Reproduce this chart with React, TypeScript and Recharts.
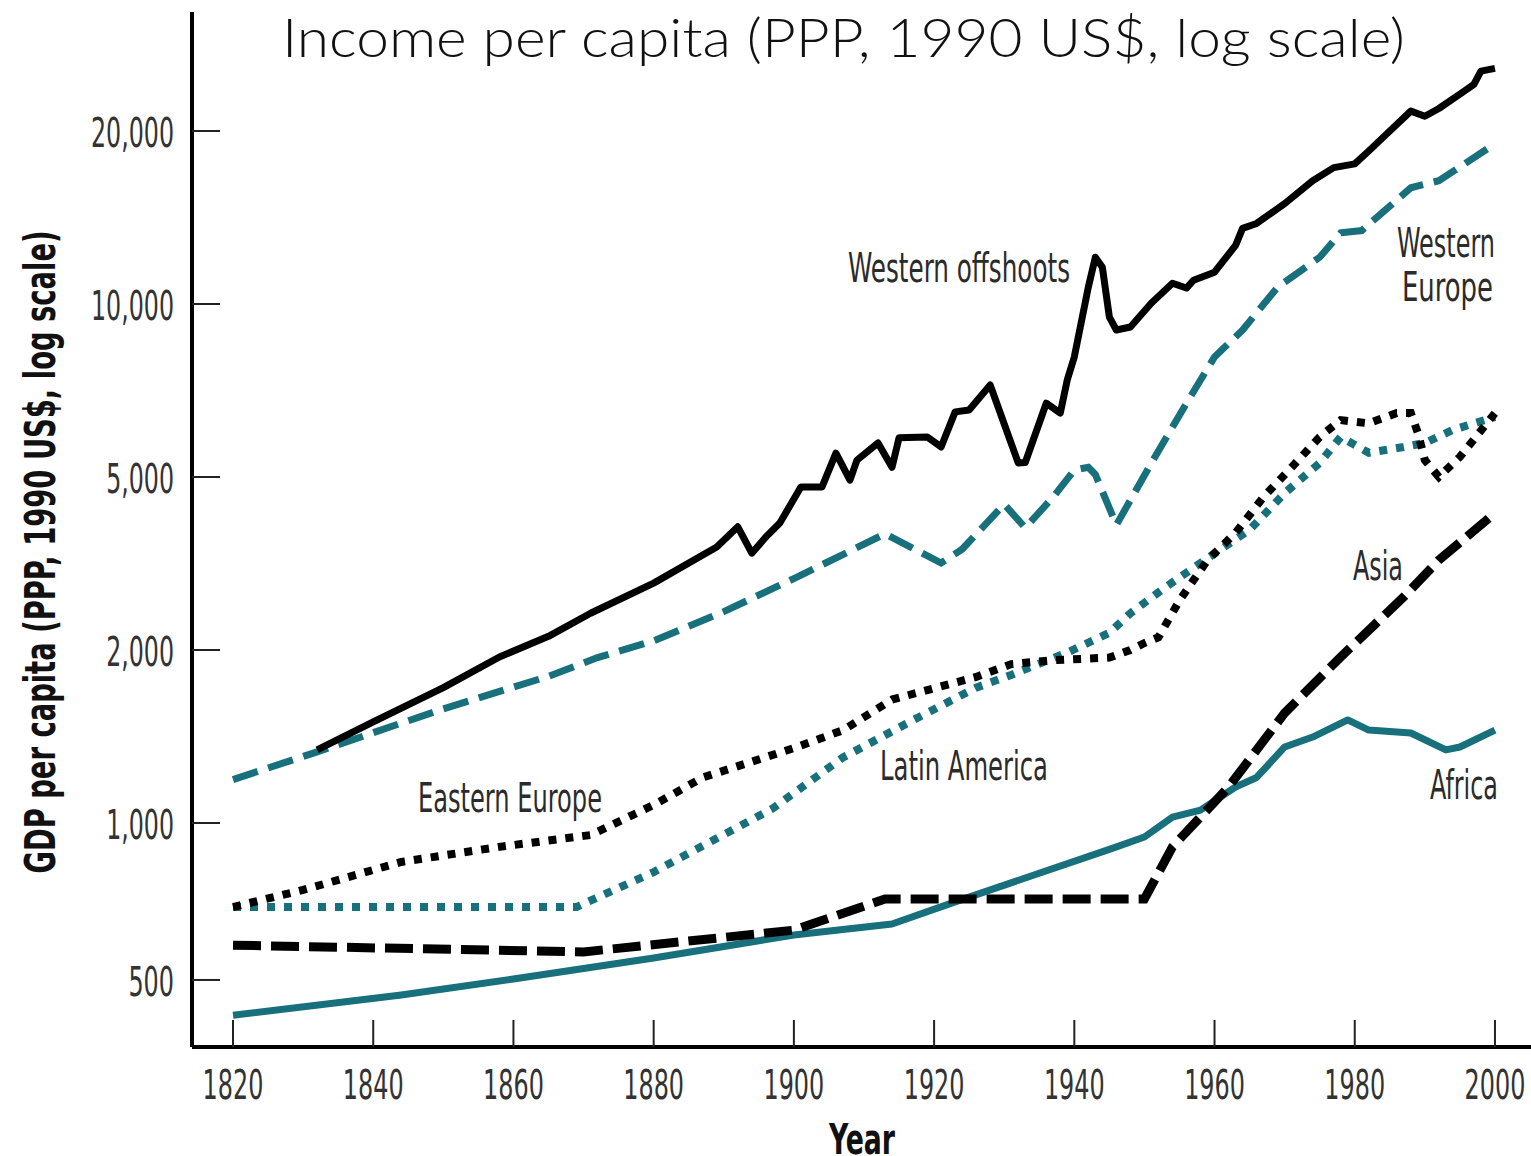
import { LineChart, Line, XAxis, YAxis } from "recharts";

// [year, GDP per capita]
const westernOffshoots = [
  [1832, 1340], [1840, 1500], [1850, 1720], [1858, 1945], [1865, 2150], [1871, 2430],
  [1880, 2850], [1889, 3450], [1892, 3840], [1894, 3340], [1896, 3640], [1898, 3920],
  [1901, 4740], [1904, 4740], [1906, 5500], [1908, 4920], [1909, 5350], [1912, 5730],
  [1914, 5200], [1915, 5850], [1919, 5870], [1921, 5640], [1923, 6490], [1925, 6540],
  [1928, 7230], [1932, 5290], [1933, 5300], [1936, 6720], [1938, 6460], [1939, 7380],
  [1940, 8090], [1942, 10700], [1943, 12060], [1944, 11590], [1945, 9490], [1946, 9010],
  [1948, 9120], [1951, 10040], [1954, 10870], [1956, 10660], [1957, 11000], [1960, 11360],
  [1963, 12650], [1964, 13540], [1966, 13810], [1970, 14950], [1974, 16390], [1977, 17270],
  [1980, 17530], [1982, 18460], [1985, 20000], [1988, 21660], [1990, 21220], [1992, 21890],
  [1995, 23180], [1997, 24120], [1998, 25420], [2000, 25700],
];

const westernEurope = [
  [1820, 1190], [1832, 1330], [1850, 1580], [1865, 1800], [1872, 1940], [1880, 2100],
  [1890, 2450], [1900, 2920], [1913, 3700], [1921, 3170], [1924, 3410], [1930, 4330],
  [1933, 3820], [1937, 4500], [1940, 5140], [1942, 5200], [1943, 5050], [1946, 3880],
  [1951, 5290], [1956, 6720], [1960, 8090], [1964, 9010], [1969, 10700], [1975, 12060],
  [1978, 13300], [1981, 13420], [1988, 15930], [1992, 16390], [2000, 19000],
];

const easternEurope = [
  [1820, 690], [1830, 744], [1844, 842], [1858, 900], [1871, 948], [1880, 1075],
  [1887, 1200], [1900, 1350], [1907, 1450], [1914, 1640], [1926, 1795], [1931, 1890],
  [1937, 1920], [1945, 1940], [1948, 2000], [1950, 2075], [1952, 2140], [1955, 2600],
  [1959, 3220], [1963, 3720], [1967, 4500], [1971, 5200], [1975, 5870], [1978, 6280],
  [1982, 6200], [1986, 6460], [1988, 6460], [1989, 5970], [1990, 5350], [1992, 5000],
  [1995, 5420], [2000, 6460],
];

const latinAmerica = [
  [1820, 690], [1869, 690], [1880, 805], [1897, 1060], [1907, 1300], [1917, 1510],
  [1926, 1720], [1931, 1810], [1939, 1980], [1945, 2190], [1948, 2430], [1953, 2790],
  [1958, 3170], [1965, 3780], [1970, 4590], [1975, 5290], [1978, 5870], [1982, 5510],
  [1987, 5640], [1990, 5730], [1994, 6040], [2000, 6360],
];

const asia = [
  [1820, 583], [1870, 566], [1900, 623], [1913, 715], [1950, 715], [1954, 900],
  [1962, 1155], [1970, 1554], [1978, 1945], [1987, 2650], [1992, 3220], [2000, 4130],
];

const africa = [
  [1820, 428], [1844, 468], [1860, 502], [1880, 551], [1900, 610], [1914, 640],
  [1923, 706], [1945, 890], [1950, 940], [1954, 1024], [1958, 1053], [1963, 1155],
  [1966, 1200], [1970, 1356], [1974, 1411], [1979, 1511], [1982, 1451], [1988, 1434],
  [1993, 1340], [1995, 1356], [2000, 1451],
];

const yearTicks = [1820, 1840, 1860, 1880, 1900, 1920, 1940, 1960, 1980, 2000];
const valueTicks = [500, 1000, 2000, 5000, 10000, 20000];
const valueTickLabels = ["500", "1,000", "2,000", "5,000", "10,000", "20,000"];

// the printed axis puts its labels at (almost) even steps, so values are
// placed by log interpolation between neighbouring labels
const tickSlots = [-0.9075, 0, 1, 2, 3, 4];

function toSlot(v: number) {
  let i = 0;
  for (let k = 1; k < valueTicks.length - 1; k++) if (v > valueTicks[k]) i = k;
  const a = valueTicks[i], b = valueTicks[i + 1];
  const t = Math.log(v / a) / Math.log(b / a);
  return tickSlots[i] + t * (tickSlots[i + 1] - tickSlots[i]);
}

const toRows = (s: number[][]) => s.map(([year, v]) => ({ year, pos: toSlot(v) }));

const TEAL = "#17707c";
const NARROW = "'Liberation Sans Narrow', 'DejaVu Sans Condensed', 'Open Sans', sans-serif";

const labelWidth = (s: string) =>
  s.split("").reduce((w, c) => w + (c === "," ? 7 : 15.2), 0);

const YTick = (props: any) => {
  const { x, y, payload } = props;
  const idx = tickSlots.findIndex((p) => Math.abs(p - payload.value) < 1e-6);
  const label = valueTickLabels[idx] ?? "";
  return (
    <g>
      <line x1={x} x2={x + 28} y1={y} y2={y} stroke="#222" strokeWidth={2} />
      <text
        x={x - 18}
        y={y + 16}
        textAnchor="end"
        fontFamily={NARROW}
        fontSize={41}
        fill="#333"
        textLength={labelWidth(label)}
        lengthAdjust="spacingAndGlyphs"
      >
        {label}
      </text>
    </g>
  );
};

const XTick = (props: any) => {
  const { x, y, payload } = props;
  const label = String(payload.value);
  return (
    <g>
      <line x1={x} x2={x} y1={y - 27} y2={y} stroke="#222" strokeWidth={2} />
      <text
        x={x}
        y={y + 52}
        textAnchor="middle"
        fontFamily={NARROW}
        fontSize={41}
        fill="#333"
        textLength={labelWidth(label)}
        lengthAdjust="spacingAndGlyphs"
      >
        {label}
      </text>
    </g>
  );
};

const seriesLabels = [
  { text: "Western offshoots", x: 848, y: 282, w: 222 },
  { text: "Western", x: 1397, y: 257, w: 98 },
  { text: "Europe", x: 1402, y: 301, w: 91 },
  { text: "Latin America", x: 880, y: 780, w: 168 },
  { text: "Eastern Europe", x: 418, y: 812, w: 184 },
  { text: "Asia", x: 1353, y: 580, w: 50 },
  { text: "Africa", x: 1430, y: 799, w: 68 },
];

export default function App() {
  return (
    <div style={{ position: "absolute", left: 0, top: 0, width: 1531, height: 1156, background: "#fff" }}>
      <LineChart width={1531} height={1156} margin={{ top: 12, right: 0, bottom: 0, left: 0 }}>
        <XAxis
          dataKey="year"
          type="number"
          domain={[1814.15, 2005.14]}
          ticks={yearTicks}
          interval={0}
          height={109}
          tickSize={0}
          tickMargin={0}
          tickLine={false}
          axisLine={{ stroke: "#000", strokeWidth: 4 }}
          tick={XTick}
          allowDataOverflow
        />
        <YAxis
          type="number"
          domain={[-1.295, 4.688]}
          ticks={tickSlots}
          interval={0}
          width={192}
          tickSize={0}
          tickMargin={0}
          tickLine={false}
          axisLine={{ stroke: "#000", strokeWidth: 4 }}
          tick={YTick}
          allowDataOverflow
        />
        <Line data={toRows(africa)} dataKey="pos" type="linear" stroke={TEAL} strokeWidth={7}
          dot={false} activeDot={false} isAnimationActive={false} strokeLinejoin="round" />
        <Line data={toRows(asia)} dataKey="pos" type="linear" stroke="#000" strokeWidth={9}
          strokeDasharray="28 10" dot={false} activeDot={false} isAnimationActive={false} />
        <Line data={toRows(latinAmerica)} dataKey="pos" type="linear" stroke={TEAL} strokeWidth={8}
          strokeDasharray="8 9" dot={false} activeDot={false} isAnimationActive={false} />
        <Line data={toRows(easternEurope)} dataKey="pos" type="linear" stroke="#000" strokeWidth={8}
          strokeDasharray="8 9" dot={false} activeDot={false} isAnimationActive={false} />
        <Line data={toRows(westernEurope)} dataKey="pos" type="linear" stroke={TEAL} strokeWidth={7}
          strokeDasharray="26 11" dot={false} activeDot={false} isAnimationActive={false} />
        <Line data={toRows(westernOffshoots)} dataKey="pos" type="linear" stroke="#000" strokeWidth={7}
          dot={false} activeDot={false} isAnimationActive={false} strokeLinejoin="round" />
      </LineChart>
      <svg width={1531} height={1156} style={{ position: "absolute", left: 0, top: 0, pointerEvents: "none" }}>
        <text x={282} y={57} fontFamily="Lato, 'Open Sans', sans-serif" fontWeight={300} fontSize={54}
          fill="#111" textLength={1123} lengthAdjust="spacingAndGlyphs">
          Income per capita (PPP, 1990 US$, log scale)
        </text>
        <text transform="translate(55 552) rotate(-90)" textAnchor="middle" fontFamily={NARROW}
          fontWeight={700} fontSize={42} fill="#111" textLength={643} lengthAdjust="spacingAndGlyphs">
          GDP per capita (PPP, 1990 US$, log scale)
        </text>
        <text x={862} y={1154} textAnchor="middle" fontFamily={NARROW} fontWeight={700} fontSize={42}
          fill="#111" textLength={66} lengthAdjust="spacingAndGlyphs">
          Year
        </text>
        {seriesLabels.map((l) => (
          <text key={l.text} x={l.x} y={l.y} fontFamily={NARROW} fontSize={40} fill="#2b2b2b"
            textLength={l.w} lengthAdjust="spacingAndGlyphs">
            {l.text}
          </text>
        ))}
      </svg>
    </div>
  );
}
